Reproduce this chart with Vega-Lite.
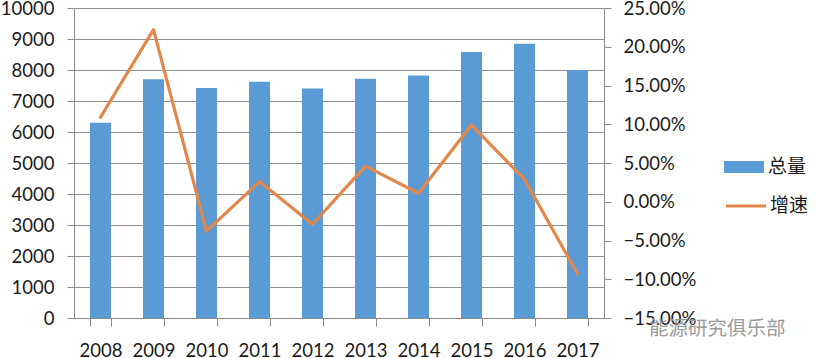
{"$schema":"https://vega.github.io/schema/vega-lite/v6.json","width":530,"height":310,"autosize":"none","padding":{"left":74,"top":8,"right":212,"bottom":40},"background":"#ffffff","title":{"text":"能源研究俱乐部","orient":"bottom","anchor":"start","frame":"group","font":"Noto Sans CJK SC","fontSize":19.5,"fontWeight":"normal","color":"#9a9a9a","dx":575,"dy":-40,"offset":0},"data":{"values":[{"year":"2008","total":6300,"growth":0.109},{"year":"2009","total":7700,"growth":0.222},{"year":"2010","total":7420,"growth":-0.038},{"year":"2011","total":7620,"growth":0.026},{"year":"2012","total":7400,"growth":-0.029},{"year":"2013","total":7720,"growth":0.046},{"year":"2014","total":7820,"growth":0.011},{"year":"2015","total":8580,"growth":0.099},{"year":"2016","total":8850,"growth":0.029},{"year":"2017","total":8000,"growth":-0.093}]},"encoding":{"x":{"field":"year","type":"nominal","scale":{"paddingInner":0.6,"paddingOuter":0.3,"align":0.5},"axis":{"title":null,"labelAngle":0,"labelFont":"Lato","labelFontSize":18.5,"labelColor":"#1a1a1a","labelPadding":24,"labelBaseline":"middle","domainColor":"#8a8a8a","tickColor":"#8a8a8a","tickSize":8,"tickBand":"extent","grid":false}}},"layer":[{"mark":{"type":"bar","width":21},"encoding":{"y":{"field":"total","type":"quantitative","scale":{"domain":[0,10000],"nice":false},"axis":{"title":null,"orient":"left","values":[0,1000,2000,3000,4000,5000,6000,7000,8000,9000,10000],"format":"d","labelFont":"Lato","labelFontSize":18.5,"labelColor":"#1a1a1a","labelPadding":13,"domainColor":"#8a8a8a","tickColor":"#8a8a8a","tickSize":7,"grid":true,"gridColor":"#8f8f8f","gridWidth":1}},"fill":{"datum":"总量","scale":{"domain":["总量"],"range":["#5b9bd5"]},"legend":{"title":null,"orient":"none","legendX":650,"legendY":139,"symbolType":"M-1,-0.3H1V0.3H-1Z","symbolSize":1600,"symbolStrokeWidth":0,"symbolOpacity":1,"labelFont":"Noto Sans CJK SC","labelFontSize":19,"labelColor":"#1a1a1a","labelOffset":4}}}},{"mark":{"type":"line","strokeWidth":3.2,"strokeCap":"round","strokeJoin":"round"},"encoding":{"y":{"field":"growth","type":"quantitative","scale":{"domain":[-0.15,0.25],"nice":false},"axis":{"title":null,"orient":"right","values":[-0.15,-0.1,-0.05,0,0.05,0.1,0.15,0.2,0.25],"format":".2%","labelFont":"Lato","labelFontSize":18.5,"labelColor":"#1a1a1a","labelPadding":12,"domainColor":"#8a8a8a","tickColor":"#8a8a8a","tickSize":7,"grid":false}},"stroke":{"datum":"增速","scale":{"domain":["增速"],"range":["#e2874a"]},"legend":{"title":null,"orient":"none","legendX":650,"legendY":176,"symbolType":"stroke","symbolSize":1600,"symbolStrokeWidth":3.2,"labelFont":"Noto Sans CJK SC","labelFontSize":19,"labelColor":"#1a1a1a","labelOffset":2}}}}],"resolve":{"scale":{"y":"independent","fill":"independent","stroke":"independent"}},"config":{"view":{"stroke":null},"axis":{"labelOverlap":false}}}
